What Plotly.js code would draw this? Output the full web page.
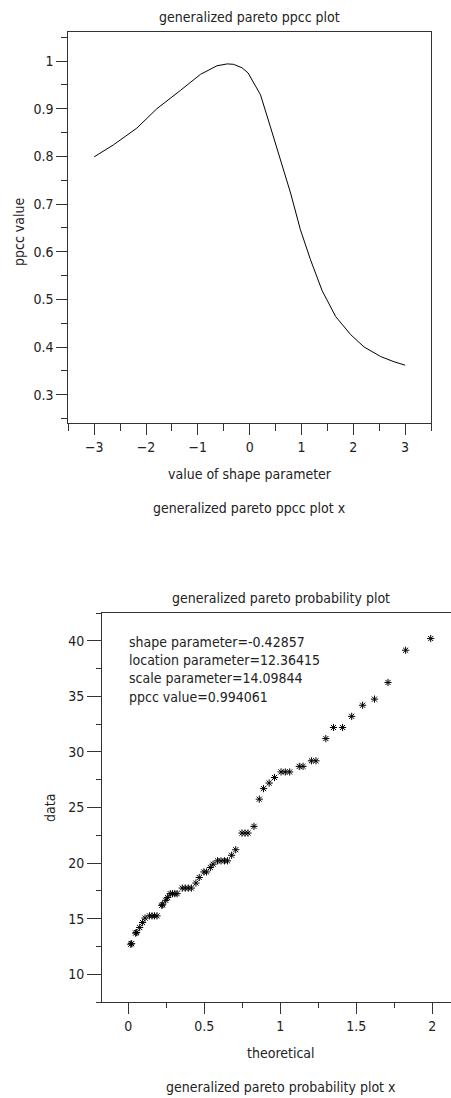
<!DOCTYPE html>
<html>
<head>
<meta charset="utf-8">
<script src="https://cdn.plot.ly/plotly-3.0.1.min.js"></script>
<style>
  html, body { margin: 0; padding: 0; background: #fff; overflow: hidden; }
  #chart { width: 451px; height: 1098px; }
</style>
</head>
<body>
<div id="chart"></div>
<script>
// PPCC curve: shape parameter vs. probability plot correlation coefficient
const shapeValues = [-3.0, -2.63, -2.18, -1.79, -1.34, -0.95, -0.63, -0.43, -0.31, -0.15, -0.03,
  0.21, 0.40, 0.59, 0.79, 0.98, 1.175, 1.40, 1.66, 1.95, 2.21, 2.53, 2.79, 3.0];
const ppccValues = [0.799, 0.824, 0.859, 0.900, 0.938, 0.972, 0.990, 0.994, 0.993, 0.986, 0.975,
  0.929, 0.862, 0.792, 0.723, 0.646, 0.583, 0.518, 0.464, 0.426, 0.400, 0.380, 0.369, 0.362];

// Probability plot: theoretical quantiles vs. ordered data
const theoretical = [0.016, 0.022, 0.048, 0.055, 0.075, 0.094, 0.110, 0.139, 0.156, 0.172,
  0.189, 0.220, 0.226, 0.246, 0.259, 0.276, 0.291, 0.306, 0.321, 0.355,
  0.375, 0.395, 0.415, 0.445, 0.467, 0.497, 0.515, 0.540, 0.558, 0.587,
  0.610, 0.633, 0.653, 0.680, 0.707, 0.748, 0.768, 0.788, 0.827, 0.862,
  0.890, 0.927, 0.962, 1.005, 1.033, 1.062, 1.125, 1.150, 1.205, 1.235,
  1.300, 1.350, 1.410, 1.470, 1.542, 1.620, 1.709, 1.825, 1.990];
const dataValues = [12.70, 12.75, 13.70, 13.75, 14.20, 14.65, 15.05, 15.25, 15.25, 15.25,
  15.25, 16.20, 16.25, 16.65, 16.90, 17.25, 17.25, 17.25, 17.25, 17.75,
  17.75, 17.75, 17.75, 18.20, 18.70, 19.20, 19.20, 19.60, 19.90, 20.20,
  20.20, 20.20, 20.20, 20.70, 21.20, 22.70, 22.70, 22.70, 23.30, 25.75,
  26.70, 27.20, 27.70, 28.20, 28.20, 28.20, 28.70, 28.70, 29.20, 29.20,
  31.20, 32.20, 32.20, 33.20, 34.20, 34.75, 36.25, 39.15, 40.20];

// Fitted parameter summary shown inside the probability plot
const fitLines = [
  'shape parameter=-0.42857',
  'location parameter=12.36415',
  'scale parameter=14.09844',
  'ppcc value=0.994061'
];

const W = 451, H = 1098;
const px = v => v / W;
const py = v => 1 - v / H;

const FONT = 'DejaVu Sans Condensed, Liberation Sans Narrow, sans-serif';
const FSIZE = 14;
const INK = '#222222';
const LINE = '#333333';

function axisStyle(extra) {
  return Object.assign({
    showline: true, linecolor: LINE, linewidth: 1,
    showgrid: false, zeroline: false,
    ticks: 'outside', tickcolor: LINE, tickwidth: 1,
    tickfont: { family: FONT, size: FSIZE, color: INK },
    fixedrange: true
  }, extra);
}

const traces = [
  {
    x: shapeValues, y: ppccValues, xaxis: 'x', yaxis: 'y',
    type: 'scatter', mode: 'lines',
    line: { color: '#000', width: 1 },
    hoverinfo: 'skip'
  },
  {
    x: theoretical, y: dataValues, xaxis: 'x2', yaxis: 'y2',
    type: 'scatter', mode: 'markers',
    marker: { symbol: 'asterisk-open', size: 6, color: '#000', line: { color: '#111', width: 1 } },
    hoverinfo: 'skip'
  }
];

function note(text, x, y, opts) {
  return Object.assign({
    text, xref: 'paper', yref: 'paper', x: px(x), y: py(y),
    xanchor: 'center', yanchor: 'middle', showarrow: false,
    font: { family: FONT, size: FSIZE, color: INK }
  }, opts || {});
}

const annotations = [
  note('generalized pareto ppcc plot', 249.7, 17),
  note('value of shape parameter', 249.7, 474),
  note('generalized pareto ppcc plot x', 249.7, 508),
  note('ppcc value', 19, 232, { textangle: -90 }),
  note('generalized pareto probability plot', 281, 598),
  note('theoretical', 281, 1053),
  note('generalized pareto probability plot x', 281, 1087),
  note('data', 50, 808, { textangle: -90 })
];
fitLines.forEach((t, i) => {
  annotations.push(note(t, 126.5, 641.7 + i * 18.3, { xanchor: 'left' }));
});

const layout = {
  width: W, height: H,
  margin: { l: 0, r: 0, t: 0, b: 0 },
  paper_bgcolor: '#fff', plot_bgcolor: '#fff',
  showlegend: false,
  xaxis: axisStyle({
    domain: [px(68.3), px(431)], anchor: 'y',
    range: [-3.5, 3.5], tickmode: 'linear', tick0: 0, dtick: 1,
    ticklen: 11, mirror: true,
    minor: { ticks: 'outside', dtick: 0.5, tick0: 0, ticklen: 7, tickcolor: LINE, showgrid: false }
  }),
  yaxis: axisStyle({
    domain: [py(422.7), py(31.7)], anchor: 'x',
    range: [0.2413, 1.0615], tickmode: 'linear', tick0: 0, dtick: 0.1,
    ticklen: 11, mirror: true,
    minor: { ticks: 'outside', dtick: 0.05, tick0: 0, ticklen: 6, tickcolor: LINE, showgrid: false }
  }),
  xaxis2: axisStyle({
    domain: [px(102), 1], anchor: 'y2',
    range: [-0.173, 2.1235], tickmode: 'linear', tick0: 0, dtick: 0.5,
    ticklen: 11, mirror: true,
    minor: { ticks: 'outside', dtick: 0.25, tick0: 0, ticklen: 5, tickcolor: LINE, showgrid: false }
  }),
  yaxis2: axisStyle({
    domain: [py(1002), py(613)], anchor: 'x2',
    range: [7.5, 42.5], tickmode: 'linear', tick0: 0, dtick: 5,
    ticklen: 14, mirror: false,
    minor: { ticks: 'outside', dtick: 2.5, tick0: 0, ticklen: 5, tickcolor: LINE, showgrid: false }
  }),
  annotations
};

Plotly.newPlot('chart', traces, layout, { staticPlot: true, displayModeBar: false });
</script>
</body>
</html>
